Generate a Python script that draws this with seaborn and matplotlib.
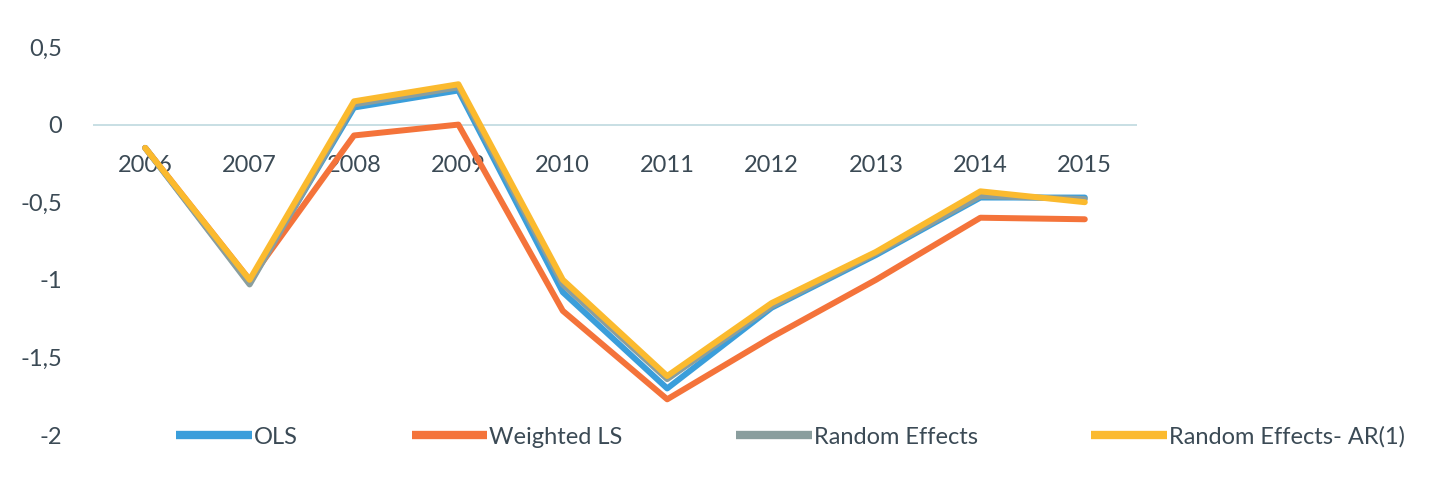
import matplotlib
matplotlib.use("Agg")
import matplotlib.pyplot as plt
import seaborn as sns
import pandas as pd

# values
years = [2006, 2007, 2008, 2009, 2010, 2011, 2012, 2013, 2014, 2015]
ols = [-0.15, -1.02, 0.11, 0.22, -1.08, -1.70, -1.18, -0.84, -0.47, -0.47]
weighted_ls = [-0.15, -1.00, -0.07, 0.00, -1.20, -1.77, -1.37, -1.00, -0.60, -0.61]
random_eff = [-0.15, -1.03, 0.13, 0.24, -1.03, -1.64, -1.17, -0.83, -0.46, -0.48]
random_ar1 = [-0.15, -1.00, 0.15, 0.26, -1.00, -1.62, -1.15, -0.82, -0.43, -0.50]

names = ["OLS", "Weighted LS", "Random Effects", "Random Effects- AR(1)"]
colors = ["#3A9EDB", "#F4733A", "#8A9E9E", "#FBBA2E"]
yticks = [0.5, 0, -0.5, -1, -1.5, -2]
ytick_labels = ["0,5", "0", "-0,5", "-1", "-1,5", "-2"]

df = pd.DataFrame({
    "year": years * 4,
    "value": ols + weighted_ls + random_eff + random_ar1,
    "model": [n for n in names for _ in years],
})

sns.set_style("white")
plt.rcParams["font.family"] = ["Lato", "DejaVu Sans"]

fig = plt.figure(figsize=(14.35, 4.95), dpi=100)
ax = fig.add_axes([93 / 1435, 60 / 495, 1044 / 1435, 388 / 495])

sns.lineplot(data=df, x="year", y="value", hue="model", hue_order=names,
             palette=colors, linewidth=4.3, ax=ax, legend=False, sort=False)
for ln in ax.lines:
    ln.set_clip_on(False)
    ln.set_zorder(3)

ax.axhline(0, color="#BFD9DF", linewidth=1.2, zorder=0)

# category labels sit just under the zero line, like Excel does
ax.spines["bottom"].set_position(("data", 0))
for s in ax.spines.values():
    s.set_visible(False)

ax.set_xlim(years[0] - 0.5, years[-1] + 0.5)
ax.set_ylim(-2, 0.5)
ax.set_yticks(yticks)
ax.set_yticklabels(ytick_labels, fontsize=17, color="#3b4a55")
ax.set_xticks(years)
ax.set_xticklabels([str(y) for y in years], fontsize=17, color="#3b4a55")
ax.tick_params(axis="x", length=0, pad=22)
ax.tick_params(axis="y", length=0, pad=22)
ax.set_xlabel("")
ax.set_ylabel("")

handles = [plt.Line2D([], [], color=c, linewidth=6, solid_capstyle="butt") for c in colors]
fig.legend(handles, names, loc="center left", bbox_to_anchor=(155 / 1435, 1 - 437 / 495),
           ncol=4, frameon=False, fontsize=17, handlelength=3.2, handletextpad=0.1,
           columnspacing=4.8, labelcolor="#3b4a55")

fig.savefig("out.png", dpi=100)
